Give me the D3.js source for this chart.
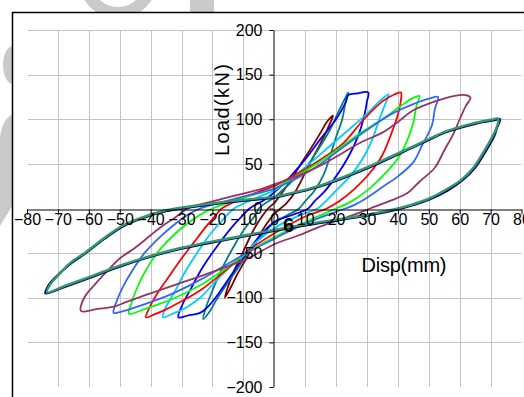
<!DOCTYPE html>
<html>
<head>
<meta charset="utf-8">
<script src="https://cdn.jsdelivr.net/npm/d3@7/dist/d3.min.js"></script>
<style>
body { margin: 0; background: #fff; }
text { font-family: "Liberation Sans", Arial, sans-serif; fill: #000; }
</style>
</head>
<body>
<div id="chart"></div>
<script>
// tick labels
const xTickValues = [-80, -70, -60, -50, -40, -30, -20, -10, 0, 10, 20, 30, 40, 50, 60, 70, 80];
const yTickValues = [-200, -150, -100, -50, 0, 50, 100, 150, 200];
const xGridValues = [-70, -60, -50, -40, -30, -20, -10, 10, 20, 30, 40, 50, 60, 70];
const yGridValues = [-150, -100, -50, 50, 100, 150, 200];

// one loop per load level, [disp mm, load kN]
const loopMaroon = [[0,6],[3,20],[6,35],[9,52],[12,68],[15,85],[17,97],[19,104],[18,95],[16,80],[13,60],[10,40],[7,20],[4,6],[2,0],[0,-6],[-3,-20],[-6,-38],[-9,-56],[-12,-74],[-14,-88],[-16,-100],[-15,-88],[-13,-70],[-10,-48],[-7,-26],[-4,-9],[-2,0],[0,6]];
const loopTeal = [[0,12],[5,28],[10,45],[14,65],[18,88],[21,110],[23,124],[24,130],[23,118],[22,100],[20,80],[18,58],[16,38],[13,20],[10,8],[8,0],[4,-8],[0,-16],[-4,-30],[-8,-48],[-12,-68],[-16,-88],[-19,-104],[-21,-116],[-23,-124],[-22,-110],[-20,-92],[-17,-68],[-13,-42],[-9,-20],[-6,-7],[-5,0],[0,12]];
const loopBlue = [[0,18],[5,35],[10,55],[15,78],[20,100],[23,118],[24,127],[27,129],[30.4,130],[30,120],[29,102],[27,80],[24,58],[20,36],[16,18],[13,8],[11,0],[6,-7],[0,-15],[-5,-32],[-10,-55],[-15,-80],[-19,-100],[-22,-112],[-24,-117],[-28,-120],[-31,-122],[-30,-110],[-27,-90],[-23,-65],[-18,-40],[-13,-18],[-10,-7],[-8,0],[-3,10],[0,18]];
const loopCyan = [[0,20],[6,35],[12,52],[18,70],[24,88],[30,106],[34,120],[37,128],[36,118],[34,100],[32,80],[29,58],[25,38],[20,20],[16,6],[14,0],[8,-8],[0,-22],[-6,-38],[-12,-58],[-18,-78],[-24,-100],[-29,-112],[-33,-118],[-36,-122],[-35,-110],[-32,-92],[-29,-72],[-25,-50],[-21,-30],[-17,-14],[-13,0],[-7,10],[0,20]];
const loopRed = [[0,25],[8,40],[15,55],[22,72],[29,100],[35,120],[39,128],[41,130],[41,122],[40,105],[38,85],[35,60],[31,40],[26,22],[21,8],[17,0],[10,-9],[0,-28],[-8,-46],[-16,-70],[-24,-92],[-30,-104],[-35,-113],[-39,-119],[-41.5,-122],[-40.5,-112],[-38,-96],[-34,-76],[-30,-56],[-26,-38],[-22,-20],[-19,-8],[-17,0],[-10,12],[-4,20],[0,25]];
const loopGreen = [[0,22],[8,38],[15,53],[22,70],[28,85],[35,100],[41,115],[45,124],[47,126],[46,115],[45,96],[43,76],[40,56],[35,36],[30,20],[25,8],[20,0],[12,-12],[0,-32],[-8,-48],[-16,-68],[-24,-86],[-32,-100],[-38,-108],[-43,-114],[-47,-118],[-46,-104],[-44,-86],[-41,-66],[-37,-46],[-32,-28],[-27,-14],[-23,-5],[-20,0],[-12,10],[-5,17],[0,22]];
const loopCornflower = [[0,22],[8,35],[15,50],[22,68],[30,88],[38,106],[45,117],[50,123],[53,125],[52,112],[51,93],[48,72],[45,52],[40,36],[35,24],[30,12],[26,4],[23,0],[15,-10],[8,-20],[0,-34],[-8,-48],[-16,-64],[-24,-80],[-32,-94],[-40,-105],[-46,-112],[-50,-116],[-52,-117],[-51,-104],[-49,-88],[-46,-70],[-42,-50],[-37,-32],[-32,-17],[-28,-7],[-24,0],[-16,8],[-8,15],[0,22]];
const loopPurple = [[-4,22],[4,32],[10,40],[16,50],[22,62],[28,74],[35,85],[40,97],[45,110],[52,120],[58,126],[62,127],[63.5,124],[62,115],[60,100],[58,84],[55,65],[52,46],[47,30],[43,17],[37,8],[31,0],[25,-8],[15,-20],[8,-30],[0,-40],[-8,-55],[-16,-66],[-24,-76],[-30,-83],[-40,-95],[-48,-105],[-52,-110],[-58,-113],[-62.5,-115],[-61.5,-100],[-58,-85],[-54,-70],[-50,-56],[-45,-44],[-40,-30],[-36,-19],[-32,-10],[-28,0],[-20,8],[-12,15],[-4,22]];
const loopNavy = [[0,12],[15,25],[30,45],[47,72],[56,86],[65,95],[71,99],[73,100],[72,90],[71,80],[68,62],[65,46],[61,32],[56,20],[50,10],[45,4],[41,0],[30,-8],[15,-16],[0,-25],[-17,-36],[-30,-45],[-40,-54],[-50,-65],[-60,-78],[-68,-88],[-74,-95],[-73,-86],[-71,-78],[-66,-62],[-61,-50],[-55,-34],[-49,-20],[-42,-10],[-35,-3],[-28,1],[-17,6],[0,12]];
const loopSeaGreen = [[0,13],[15,26],[30,46],[47,73],[56,87],[65,96],[70,99.5],[72.5,100.5],[72,91],[70.5,80],[67.5,62],[64.5,46],[60.5,32],[55.5,21],[50,11],[45,5],[41,1],[30,-7],[15,-15],[0,-24],[-17,-35],[-30,-44],[-40,-53],[-50,-64],[-60,-77],[-68,-87],[-73.5,-94],[-72.5,-85],[-70.5,-77],[-66,-61],[-61,-49],[-55,-33],[-49,-19],[-42,-9],[-35,-2],[-28,2],[-17,7],[0,13]];

const series = [
  { pts: loopMaroon, color: "#800000" },
  { pts: loopTeal, color: "#008080" },
  { pts: loopBlue, color: "#0000ff" },
  { pts: loopCyan, color: "#00ccff" },
  { pts: loopRed, color: "#ff0000" },
  { pts: loopGreen, color: "#00ff00" },
  { pts: loopCornflower, color: "#3366ff" },
  { pts: loopPurple, color: "#993366" },
  { pts: loopNavy, color: "#000080" },
  { pts: loopSeaGreen, color: "#339966" }
];

const width = 524, height = 397;
const svg = d3.select("#chart").append("svg").attr("width", width).attr("height", height);

// grey watermark pieces outside the frame
const wm = svg.append("g").attr("fill", "#cacaca");
wm.append("path").attr("fill-rule", "evenodd")
  .attr("d", d3.arc()({ innerRadius: 27, outerRadius: 39, startAngle: 0, endAngle: 2 * Math.PI }))
  .attr("transform", "translate(118,-20)");
wm.append("rect").attr("x", 190).attr("y", 0).attr("width", 24).attr("height", 14);
wm.append("ellipse").attr("cx", 13).attr("cy", 65).attr("rx", 10).attr("ry", 19);
wm.append("path").attr("d", "M14,114 Q2,118 0,138 L0,226 L14,203 Z");

// frame
svg.append("rect").attr("x", 12.5).attr("y", 12.5).attr("width", 600).attr("height", 600)
  .attr("fill", "#fff").attr("stroke", "#000").attr("stroke-width", 1.5);

const x = d3.scaleLinear().domain([-80, 80]).range([27, 521.5]);
const y = d3.scaleLinear().domain([-200, 200]).range([387, 30]);

const grid = svg.append("g").attr("stroke", "#c4c4c4").attr("stroke-width", 1);
grid.selectAll(".vg").data(xGridValues).enter().append("line")
  .attr("x1", d => Math.round(x(d)) + 0.5).attr("x2", d => Math.round(x(d)) + 0.5)
  .attr("y1", y(200)).attr("y2", y(-200));
grid.selectAll(".hg").data(yGridValues).enter().append("line")
  .attr("y1", d => Math.round(y(d)) + 0.5).attr("y2", d => Math.round(y(d)) + 0.5)
  .attr("x1", 28).attr("x2", x(80));

const line = d3.line().x(d => x(d[0])).y(d => y(d[1])).curve(d3.curveCatmullRom.alpha(0.5));
svg.append("g").selectAll("path").data(series).enter().append("path")
  .attr("d", d => line(d.pts))
  .attr("fill", "none")
  .attr("stroke", d => d.color)
  .attr("stroke-width", d => (d.color === "#000080" || d.color === "#339966") ? 2.4 : 1.8)
  .attr("stroke-linejoin", "round");

// axes crossing at the origin
const xAxis = svg.append("g").attr("transform", `translate(0,${Math.round(y(0)) + 0.5})`)
  .call(d3.axisBottom(x).tickValues(xTickValues).tickSizeInner(5).tickSizeOuter(0).tickPadding(-1));
const yAxis = svg.append("g").attr("transform", `translate(${Math.round(x(0)) - 0.5},0)`)
  .call(d3.axisLeft(y).tickValues(yTickValues).tickSizeInner(4).tickSizeOuter(0).tickPadding(7));
[xAxis, yAxis].forEach(a => {
  a.select(".domain").attr("stroke", "#000");
  a.selectAll(".tick line").attr("stroke", "#000");
  a.selectAll("text").attr("font-size", 16).attr("font-family", "Liberation Sans, Arial, sans-serif").attr("fill", "#000");
});

svg.append("text").attr("transform", "translate(229,110) rotate(-90)")
  .attr("text-anchor", "middle").attr("font-size", 20).attr("textLength", 92)
  .text("Load(kN)");
svg.append("text").attr("x", 404).attr("y", 272)
  .attr("text-anchor", "middle").attr("font-size", 20).attr("textLength", 85)
  .text("Disp(mm)");
svg.append("text").attr("x", 283).attr("y", 232)
  .attr("font-size", 20).attr("font-weight", "bold")
  .text("6");
</script>
</body>
</html>
